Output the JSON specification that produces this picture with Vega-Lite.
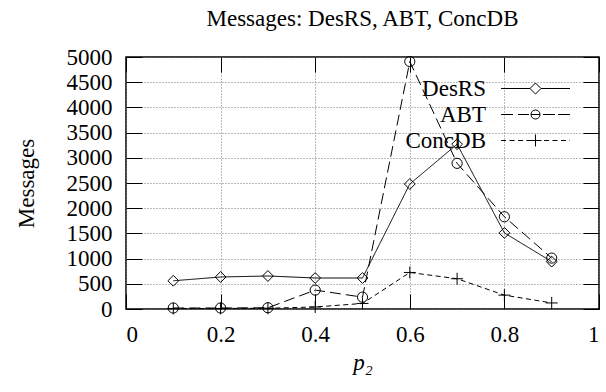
{
  "$schema": "https://vega.github.io/schema/vega-lite/v6.json",
  "width": 473,
  "height": 252,
  "autosize": "none",
  "padding": {"left": 126, "top": 57, "right": 7, "bottom": 83},
  "title": {"text": "Messages: DesRS, ABT, ConcDB", "font": "Liberation Serif", "fontSize": 23, "fontWeight": "normal", "color": "black", "offset": 15, "anchor": "middle"},
  "data": {
    "values": [
      {"p": 0.1, "series": "DesRS", "m": 560},
      {"p": 0.2, "series": "DesRS", "m": 635},
      {"p": 0.3, "series": "DesRS", "m": 655},
      {"p": 0.4, "series": "DesRS", "m": 615},
      {"p": 0.5, "series": "DesRS", "m": 615},
      {"p": 0.6, "series": "DesRS", "m": 2480},
      {"p": 0.7, "series": "DesRS", "m": 3270},
      {"p": 0.8, "series": "DesRS", "m": 1510},
      {"p": 0.9, "series": "DesRS", "m": 940},
      {"p": 0.1, "series": "ABT", "m": 20},
      {"p": 0.2, "series": "ABT", "m": 20},
      {"p": 0.3, "series": "ABT", "m": 25},
      {"p": 0.4, "series": "ABT", "m": 375},
      {"p": 0.5, "series": "ABT", "m": 235},
      {"p": 0.6, "series": "ABT", "m": 4910},
      {"p": 0.7, "series": "ABT", "m": 2890},
      {"p": 0.8, "series": "ABT", "m": 1830},
      {"p": 0.9, "series": "ABT", "m": 1010},
      {"p": 0.1, "series": "ConcDB", "m": 10},
      {"p": 0.2, "series": "ConcDB", "m": 10},
      {"p": 0.3, "series": "ConcDB", "m": 15},
      {"p": 0.4, "series": "ConcDB", "m": 40},
      {"p": 0.5, "series": "ConcDB", "m": 110},
      {"p": 0.6, "series": "ConcDB", "m": 725},
      {"p": 0.7, "series": "ConcDB", "m": 600},
      {"p": 0.8, "series": "ConcDB", "m": 275},
      {"p": 0.9, "series": "ConcDB", "m": 120}
    ]
  },
  "layer": [
    {
      "mark": {"type": "line", "color": "black", "strokeWidth": 1},
      "encoding": {
        "x": {"field": "p", "type": "quantitative", "scale": {"domain": [0, 1], "nice": false, "zero": false},
          "axis": {"orient": "bottom", "values": [0, 0.2, 0.4, 0.6, 0.8, 1], "format": "~g", "grid": true, "ticks": false, "tickSize": 0, "labelPadding": 14, "title": "p₂", "titleFontStyle": "italic", "titlePadding": 5}},
        "y": {"field": "m", "type": "quantitative", "scale": {"domain": [0, 5000], "nice": false},
          "axis": {"orient": "left", "values": [0, 500, 1000, 1500, 2000, 2500, 3000, 3500, 4000, 4500, 5000], "format": "d", "grid": true, "ticks": false, "tickSize": 0, "labelPadding": 14, "title": "Messages", "titlePadding": 28}},
        "strokeDash": {"field": "series", "type": "nominal",
          "scale": {"domain": ["DesRS", "ABT", "ConcDB"], "range": [[1, 0], [11, 5], [5, 3.5]]},
          "legend": null}
      }
    },
    {
      "mark": {"type": "point", "filled": false, "color": "black", "strokeWidth": 1, "size": 144, "opacity": 1},
      "encoding": {
        "x": {"field": "p", "type": "quantitative",
          "axis": {"orient": "bottom", "values": [0, 0.2, 0.4, 0.6, 0.8, 1], "labels": false, "grid": false, "tickSize": -15, "title": null, "zindex": 1}},
        "y": {"field": "m", "type": "quantitative",
          "axis": {"orient": "left", "values": [0, 500, 1000, 1500, 2000, 2500, 3000, 3500, 4000, 4500, 5000], "labels": false, "grid": false, "tickSize": -16, "title": null, "zindex": 1}},
        "shape": {"field": "series", "type": "nominal",
          "scale": {"domain": ["DesRS", "ABT", "ConcDB"], "range": [
            "M-0.9,0L0,-0.9L0.9,0L0,0.9Z",
            "M0.85,0L0.785,0.325L0.601,0.601L0.325,0.785L0,0.85L-0.325,0.785L-0.601,0.601L-0.785,0.325L-0.85,0L-0.785,-0.325L-0.601,-0.601L-0.325,-0.785L0,-0.85L0.325,-0.785L0.601,-0.601L0.785,-0.325Z",
            "M-1,0L1,0M0,-1L0,1"
          ]},
          "legend": null}
      }
    },
    {
      "mark": {"type": "point", "filled": false, "color": "black", "strokeWidth": 1, "opacity": 0},
      "encoding": {
        "x": {"field": "p", "type": "quantitative",
          "axis": {"orient": "top", "values": [0, 0.2, 0.4, 0.6, 0.8, 1], "labels": false, "grid": false, "tickSize": -15, "title": null, "zindex": 1}},
        "y": {"field": "m", "type": "quantitative",
          "axis": {"orient": "right", "values": [0, 500, 1000, 1500, 2000, 2500, 3000, 3500, 4000, 4500, 5000], "labels": false, "grid": false, "tickSize": -16, "title": null, "zindex": 1}},
        "shape": {"field": "series", "type": "nominal",
          "scale": {"domain": ["DesRS", "ABT", "ConcDB"], "range": [
            "M-7.667,0L-1.222,0M1.222,0L7.667,0M-1.222,0L0,-1.222L1.222,0L0,1.222ZM9.333,0L9.333,0",
            "M-7.667,0L-5,0M-3.889,0L-1.444,0M1.667,0L4.333,0M5,0L7.667,0M1,0L0.924,0.383L0.707,0.707L0.383,0.924L0,1L-0.383,0.924L-0.707,0.707L-0.924,0.383L-1,0L-0.924,-0.383L-0.707,-0.707L-0.383,-0.924L0,-1L0.383,-0.924L0.707,-0.707L0.924,-0.383ZM-1,0L1,0M9.333,0L9.333,0",
            "M-7.667,0L-6.556,0M-5.778,0L-4.667,0M-3.889,0L-2.778,0M-2,0L-0.889,0M-1.333,0L1.333,0M0,-1.333L0,1.333M1.889,0L3,0M3.778,0L4.889,0M5.667,0L6.778,0M7.556,0L7.667,0M9.333,0L9.333,0"
          ]},
          "legend": {
            "title": null, "orient": "top-right", "offset": 9.5, "padding": 10, "rowPadding": 2,
            "symbolSize": 81, "symbolOffset": 120, "labelOffset": -61, "labelAlign": "right",
            "labelFont": "Liberation Serif", "labelFontSize": 23, "labelColor": "black",
            "symbolStrokeWidth": 1, "symbolStrokeColor": "black", "symbolFillColor": "transparent", "symbolOpacity": 1,
            "encode": {"symbols": {"update": {"opacity": {"value": 1}, "strokeOpacity": {"value": 1}, "stroke": {"value": "black"}}}}
          }}
      }
    }
  ],
  "resolve": {"axis": {"x": "independent", "y": "independent"}, "scale": {"shape": "independent"}},
  "config": {
    "view": {"stroke": "black", "strokeWidth": 1.5},
    "axis": {
      "labelFont": "Liberation Serif", "labelFontSize": 23, "labelColor": "black",
      "titleFont": "Liberation Serif", "titleFontSize": 23, "titleFontWeight": "normal", "titleColor": "black",
      "domain": false, "tickColor": "black", "tickWidth": 1,
      "gridColor": "#777", "gridDash": [1, 2], "gridWidth": 1, "gridOpacity": 1
    }
  }
}
